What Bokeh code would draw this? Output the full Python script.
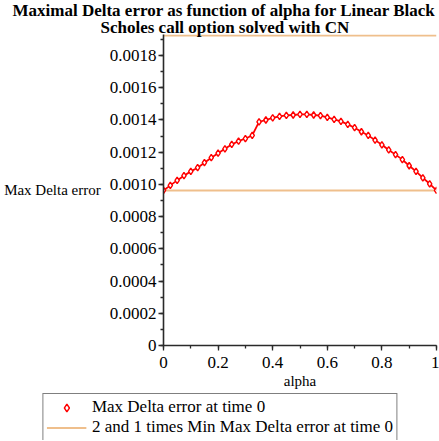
from bokeh.plotting import figure
from bokeh.layouts import column
from bokeh.models import (ColumnDataSource, SingleIntervalTicker, CustomJSTickFormatter,
                          Legend, LegendItem, Range1d, Title)
from bokeh.embed import file_html
from bokeh.resources import INLINE

# ---------------- data ----------------
alpha = [0.0, 0.025, 0.05, 0.075, 0.1, 0.125, 0.15, 0.175, 0.2, 0.225,
         0.25, 0.275, 0.3, 0.325, 0.35, 0.375, 0.4, 0.425, 0.45, 0.475,
         0.5, 0.525, 0.55, 0.575, 0.6, 0.625, 0.65, 0.675, 0.7, 0.725,
         0.75, 0.775, 0.8, 0.825, 0.85, 0.875, 0.9, 0.925, 0.95, 0.975, 1.0]
max_delta_error = [0.0009625, 0.000994, 0.001025, 0.001054, 0.001081, 0.001104,
                   0.001135, 0.001166, 0.001194, 0.001221, 0.001248, 0.001269,
                   0.001285, 0.001304, 0.001388, 0.001400, 0.001413, 0.001423,
                   0.001429, 0.001431, 0.001435, 0.001435, 0.001431, 0.001427,
                   0.001416, 0.001404, 0.001391, 0.001373, 0.001352, 0.001327,
                   0.001304, 0.001275, 0.001246, 0.001214, 0.001185, 0.001154,
                   0.001116, 0.001081, 0.001041, 0.001004, 0.0009625]
ref_multipliers = [2, 1]

title_line1 = "Maximal Delta error as function of alpha for Linear Black"
title_line2 = "Scholes call option solved with CN"
x_label = "alpha"
y_label = "Max Delta error"
legend_labels = ["Max Delta error at time 0",
                 "2 and 1 times Min Max Delta error at time 0"]

RED = "#FF0000"
ORANGE = "#EFBF8C"
AXIS = "#2a2a2a"
FONT = "Liberation Serif"

# ---------------- main figure ----------------
src = ColumnDataSource(dict(x=alpha, y=max_delta_error))
min_err = min(max_delta_error)
ref_levels = [m * min_err for m in ref_multipliers]
y_top = max(ref_levels)

p = figure(width=439, height=391, x_range=Range1d(0, 1),
           y_range=Range1d(0, y_top * 1.003),
           toolbar_location=None, output_backend="svg",
           min_border_left=163, min_border_right=3, min_border_top=30,
           min_border_bottom=0, frame_align=False)
p.outline_line_color = None
p.grid.visible = False
p.background_fill_color = "white"
p.border_fill_color = "white"

for lvl in ref_levels:
    p.line(x=[alpha[0], alpha[-1]], y=[lvl, lvl], line_color=ORANGE, line_width=2)

p.line(x="x", y="y", source=src, line_color=RED, line_width=1.8)
p.scatter(x="x", y="y", source=src, marker="diamond", size=6.5,
          line_color=RED, fill_color="white", line_width=1.4)

for ax in (p.xaxis[0], p.yaxis[0]):
    ax.axis_line_color = AXIS
    ax.axis_line_width = 1.6
    ax.major_tick_line_color = AXIS
    ax.minor_tick_line_color = AXIS
    ax.major_tick_line_width = 1.3
    ax.minor_tick_line_width = 1.3
    ax.major_tick_in = 0
    ax.minor_tick_in = 0
    ax.major_tick_out = 5
    ax.minor_tick_out = 3
    ax.major_label_text_font = FONT
    ax.major_label_text_font_size = "17px"
    ax.major_label_text_color = "black"
    ax.axis_label_text_font = FONT
    ax.axis_label_text_font_size = "15px"
    ax.axis_label_text_font_style = "normal"
    ax.axis_label_text_color = "black"

p.xaxis.ticker = SingleIntervalTicker(interval=0.2, num_minor_ticks=2)
p.xaxis.formatter = CustomJSTickFormatter(code="return String(Number(tick.toFixed(1)));")
p.xaxis.axis_label = x_label
p.xaxis.major_label_standoff = 6
p.xaxis.axis_label_standoff = 2

p.yaxis.ticker = SingleIntervalTicker(interval=0.0002, num_minor_ticks=2)
p.yaxis.formatter = CustomJSTickFormatter(
    code="return Math.abs(tick) < 1e-12 ? '0' : tick.toFixed(4);")
p.yaxis.axis_label = y_label
p.yaxis.axis_label_orientation = "horizontal"
p.yaxis.major_label_standoff = 2
p.yaxis.axis_label_standoff = 6

# title: two lines, the line nearest the plot is added first
p.add_layout(Title(text=title_line2, align="left", offset=-63, standoff=-4,
                   text_font=FONT, text_font_style="bold", text_font_size="17px",
                   text_line_height=0.8, text_color="black"), "above")
p.add_layout(Title(text=title_line1, align="left", offset=-151, standoff=-4,
                   text_font=FONT, text_font_style="bold", text_font_size="17px",
                   text_line_height=0.8, text_color="black"), "above")

# ---------------- legend strip ----------------
lf = figure(width=439, height=49, x_range=Range1d(10, 11), y_range=Range1d(10, 11),
            x_axis_type=None, y_axis_type=None, toolbar_location=None,
            output_backend="svg", min_border=0, frame_align=False)
lf.outline_line_color = None
lf.grid.visible = False
ls = lf.scatter(x="x", y="y", source=src, marker="diamond", size=6.5,
                line_color=RED, fill_color="white", line_width=1.4)
ll = lf.line(x=[alpha[0], alpha[-1]], y=[ref_levels[0], ref_levels[0]],
             line_color=ORANGE, line_width=2)
legend = Legend(items=[LegendItem(label=legend_labels[0], renderers=[ls]),
                       LegendItem(label=legend_labels[1], renderers=[ll])],
                location="top", orientation="vertical")
legend.label_text_font = FONT
legend.label_text_font_size = "17px"
legend.label_text_color = "black"
legend.border_line_color = "black"
legend.border_line_width = 1
legend.background_fill_alpha = 1
legend.glyph_width = 40
legend.glyph_height = 19
legend.label_height = 19
legend.label_standoff = 6
legend.spacing = 0
legend.padding = 3
legend.margin = 2
lf.add_layout(legend, "center")

layout = column(p, lf, spacing=0)
open("out.html", "w").write(file_html(layout, INLINE))
